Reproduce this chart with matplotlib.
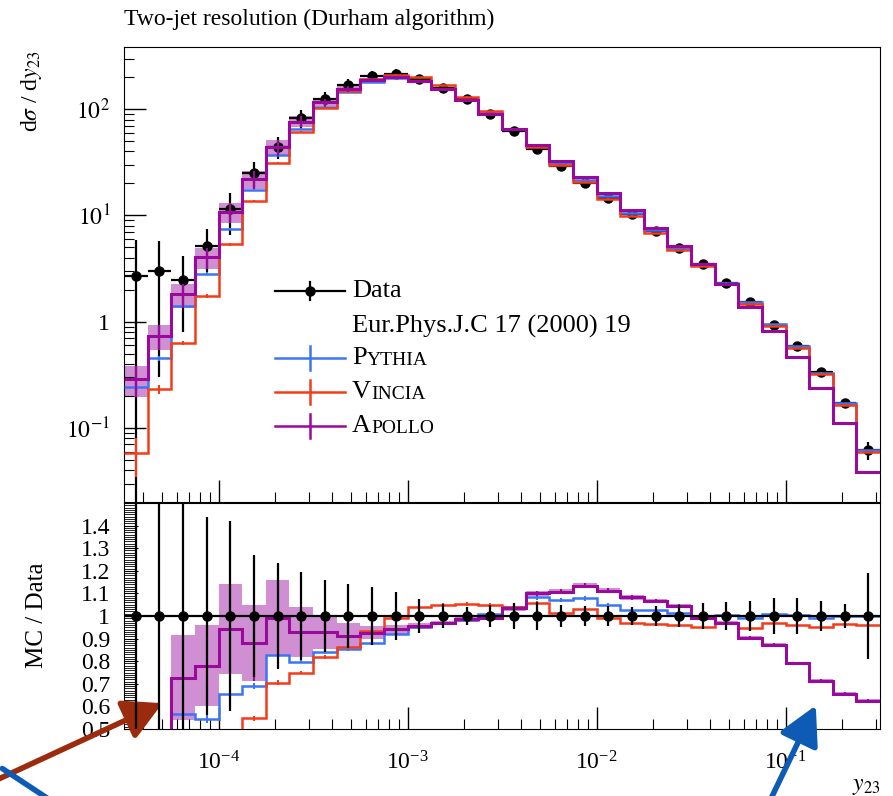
import numpy as np
import matplotlib.pyplot as plt
from matplotlib.ticker import FixedLocator, NullFormatter, LogLocator, MultipleLocator

plt.rcParams['font.family'] = ['Liberation Serif', 'DejaVu Serif']
plt.rcParams['mathtext.fontset'] = 'stix'

# bin edges in log10(y23)
log_edges = [-4.5, -4.375, -4.25, -4.125, -4.0, -3.875, -3.75, -3.625, -3.5, -3.375, -3.25,
             -3.125, -3.0, -2.875, -2.75, -2.625, -2.5, -2.375, -2.25, -2.125, -2.0, -1.875,
             -1.75, -1.625, -1.5, -1.375, -1.25, -1.125, -1.0, -0.875, -0.75, -0.625, -0.5]

data = [2.68, 3.0, 2.49, 5.2, 11.4, 25.0, 44.4, 82.2, 125, 170, 204, 214, 193, 160, 125, 91,
        62.4, 42.2, 29.4, 20.1, 14.5, 10.3, 7.08, 4.93, 3.50, 2.32, 1.54, 0.94, 0.585, 0.336,
        0.170, 0.0616]
data_rel_err = [1.19, 0.90, 0.68, 0.44, 0.42, 0.27, 0.236, 0.195, 0.16, 0.14, 0.13, 0.105,
                0.077, 0.053, 0.041, 0.048, 0.059, 0.06, 0.048, 0.045, 0.045, 0.04, 0.045, 0.05,
                0.058, 0.062, 0.068, 0.08, 0.078, 0.068, 0.055, 0.19]

# MC / Data
pythia_ratio = [0.091, 0.151, 0.565, 0.544, 0.653, 0.69, 0.827, 0.798, 0.839, 0.854, 0.882,
                0.919, 0.953, 0.968, 0.982, 1.009, 1.041, 1.083, 1.071, 1.078, 1.049, 1.027,
                1.027, 1.012, 1.0, 1.004, 0.99, 1.009, 1.004, 0.99, 1.0, 1.0]
vincia_ratio = [0.0215, 0.077, 0.253, 0.338, 0.47, 0.547, 0.705, 0.749, 0.82, 0.864, 0.934,
                0.99, 1.038, 1.049, 1.053, 1.049, 1.041, 1.056, 1.015, 1.03, 0.993, 0.968,
                0.965, 0.96, 0.95, 0.968, 0.945, 0.968, 0.96, 0.953, 0.963, 0.96]
apollo_ratio = [0.108, 0.245, 0.727, 0.779, 0.942, 0.882, 0.99, 0.93, 0.93, 0.913, 0.926,
                0.941, 0.956, 0.97, 0.985, 0.993, 1.034, 1.10, 1.108, 1.134, 1.112, 1.083,
                1.066, 1.044, 0.99, 0.968, 0.901, 0.872, 0.79, 0.714, 0.655, 0.625]

# relative MC uncertainties
pythia_err = [0.08, 0.05, 0.04, 0.03, 0.03, 0.02] + [0.01] * 26
vincia_err = [0.4, 0.1, 0.05, 0.04, 0.03, 0.02, 0.015] + [0.01] * 25
apollo_err = [0.32, 0.26, 0.26, 0.23, 0.21, 0.19, 0.17, 0.12, 0.08, 0.06, 0.03, 0.02,
              0.015] + [0.01] * 19

c_pythia = '#3b75f5'
c_vincia = '#f23c1a'
c_apollo = '#990a9c'
c_band = '#c87ccb'

edges = 10 ** np.array(log_edges)
lo, hi = edges[:-1], edges[1:]
centers = np.sqrt(lo * hi)
data = np.array(data)
derr = np.array(data_rel_err) * data

fig = plt.figure(figsize=(8.93, 7.96), dpi=100)
ax = fig.add_axes([124/893, 294/796, 756/893, 455/796])
rax = fig.add_axes([124/893, 67/796, 756/893, 226/796])

# ---- main panel
mcs = [(pythia_ratio, pythia_err, c_pythia, 1.8),
       (vincia_ratio, vincia_err, c_vincia, 1.8),
       (apollo_ratio, apollo_err, c_apollo, 2.2)]
for ratio, err, col, lw in mcs:
    ratio = np.array(ratio)
    err = np.array(err)
    vals = ratio * data
    if col == c_apollo:
        ax.stairs(vals * (1 + err), edges, baseline=vals * (1 - err), fill=True,
                  color=c_band, alpha=0.85, lw=0, zorder=1)
        rax.stairs(ratio * (1 + err), edges, baseline=ratio * (1 - err), fill=True,
                   color=c_band, alpha=0.85, lw=0, zorder=1)
    ax.stairs(vals, edges, baseline=None, color=col, lw=lw, zorder=3)
    ax.vlines(centers, vals * (1 - err), vals * (1 + err), color=col, lw=1.5, zorder=3)
    rax.stairs(ratio, edges, baseline=None, color=col, lw=lw, zorder=3)
    rax.vlines(centers, ratio * (1 - err), ratio * (1 + err), color=col, lw=1.5, zorder=3)

ax.errorbar(centers, data, xerr=[centers - lo, hi - centers],
            yerr=[np.minimum(derr, 0.999 * data), derr], fmt='o', color='k',
            ms=6.5, lw=1.6, capsize=0, zorder=2)

ax.set_xscale('log')
ax.set_yscale('log')
ax.set_xlim(edges[0], edges[-1])
ax.set_ylim(0.0201, 385)
ax.yaxis.set_major_locator(FixedLocator([0.1, 1, 10, 100]))
ax.set_yticklabels([r'$10^{-1}$', '1', r'$10^{1}$', r'$10^{2}$'])
ax.yaxis.set_minor_locator(LogLocator(subs=np.arange(2, 10)))
ax.yaxis.set_minor_formatter(NullFormatter())
ax.xaxis.set_minor_formatter(NullFormatter())
ax.tick_params(which='both', direction='in', top=False, right=False, labelbottom=False,
               labelsize=17)
ax.tick_params(which='major', length=16, width=1, pad=10)
ax.tick_params(which='minor', length=7, width=0.8)

ax.text(0.0, 1.0 + 22/455, 'Two-jet resolution (Durham algorithm)', transform=ax.transAxes,
        fontsize=17, va='baseline')
fig.text(32/893, 1 - 50/796, r'd$\sigma$ / d$y_{23}$', rotation=90, ha='center', va='top',
         fontsize=17)

# ---- legend
def px(x, y):
    return (x - 124) / 756, (502 - y) / 455

x0, _ = px(275, 0)
x1, _ = px(345, 0)
xm, _ = px(310, 0)
xt, _ = px(352, 0)
_, yd = px(0, 291)
ax.plot([x0, x1], [yd, yd], color='k', lw=1.6, transform=ax.transAxes, clip_on=False)
ax.plot([xm, xm], [yd - 9/455, yd + 9/455], color='k', lw=1.6, transform=ax.transAxes)
ax.plot([xm], [yd], 'o', color='k', ms=6.5, transform=ax.transAxes)
ax.text(xt, yd, 'Data', transform=ax.transAxes, fontsize=19, va='center')
_, ye = px(0, 326)
ax.text(xt, ye, 'Eur.Phys.J.C 17 (2000) 19', transform=ax.transAxes, fontsize=19, va='center')

names = ['Pythia', 'Vincia', 'Apollo']
cols = [c_pythia, c_vincia, c_apollo]
rows = [358, 392, 426]
for name, col, row in zip(names, cols, rows):
    _, y = px(0, row)
    ax.plot([x0, x1], [y, y], color=col, lw=1.8, transform=ax.transAxes)
    ax.plot([xm, xm], [y - 12/455, y + 12/455], color=col, lw=1.8, transform=ax.transAxes)
    t = ax.text(xt, y - 11/455, name[0], transform=ax.transAxes, fontsize=19, va='bottom')
    ax.annotate(name[1:].upper(), xy=(1, 0), xycoords=t, fontsize=14, va='bottom')

# ---- ratio panel
ones = np.ones(len(data))
rax.errorbar(centers, ones, xerr=[centers - lo, hi - centers], yerr=data_rel_err,
             fmt='o', color='k', ms=6.5, lw=1.6, capsize=0, zorder=4)
rax.set_xscale('log')
rax.set_xlim(edges[0], edges[-1])
rax.set_ylim(0.5, 1.5)
rax.yaxis.set_major_locator(FixedLocator([0.5, 0.6, 0.7, 0.8, 0.9, 1.0, 1.1, 1.2, 1.3, 1.4]))
rax.set_yticklabels(['0.5', '0.6', '0.7', '0.8', '0.9', '1', '1.1', '1.2', '1.3', '1.4'])
rax.yaxis.set_minor_locator(MultipleLocator(0.01))
rax.xaxis.set_minor_formatter(NullFormatter())
rax.tick_params(which='both', direction='in', top=False, right=False, labelsize=17)
rax.tick_params(axis='x', which='major', length=16, width=1, pad=16)
rax.tick_params(axis='x', which='minor', length=7, width=0.8)
rax.tick_params(axis='y', which='major', length=10, width=0.8, pad=10)
rax.tick_params(axis='y', which='minor', length=8, width=0.6)
fig.text(37/893, 1 - 615/796, 'MC / Data', rotation=90, ha='center', va='center', fontsize=18)
fig.text(880/893, 1 - 790/796, r'$y_{23}$', ha='right', va='baseline', fontsize=17)

# ---- overlaid arrows
plt.annotate('', xy=(165, 796 - 702), xytext=(-10, 796 - 783), xycoords='figure pixels',
             arrowprops=dict(arrowstyle='-|>,head_length=1.3,head_width=0.7', lw=4,
                             color='#9a2b0c', mutation_scale=18), annotation_clip=False)
plt.annotate('', xy=(817, 796 - 703), xytext=(765, -15), xycoords='figure pixels',
             arrowprops=dict(arrowstyle='-|>,head_length=1.3,head_width=0.7', lw=4,
                             color='#0d5bb5', mutation_scale=18), annotation_clip=False)
plt.annotate('', xy=(50, -4), xytext=(0, 796 - 767), xycoords='figure pixels',
             arrowprops=dict(arrowstyle='-', lw=4, color='#0d5bb5'), annotation_clip=False)

fig.savefig('out.png', dpi=100)
